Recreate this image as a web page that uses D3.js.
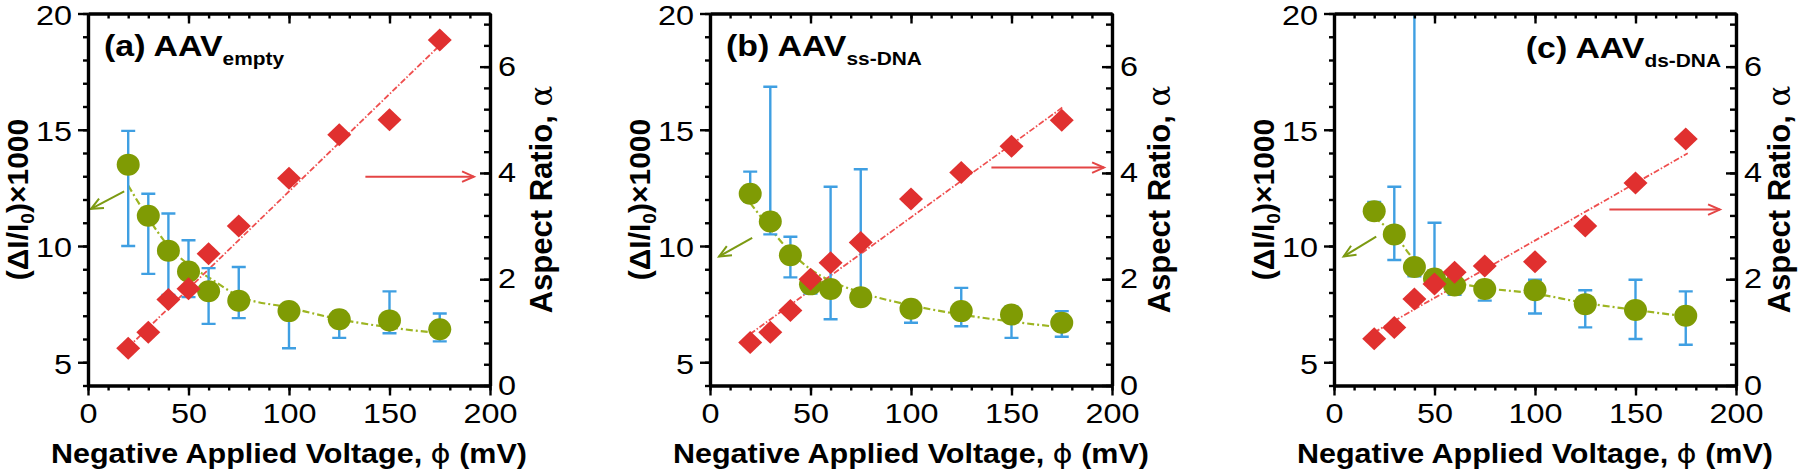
<!DOCTYPE html>
<html><head><meta charset="utf-8">
<script src="https://cdn.jsdelivr.net/npm/d3@7"></script>
<style>
body{margin:0;background:#fff;}
svg text{font-family:"Liberation Sans",Arial,Helvetica,sans-serif;fill:#000;}
</style></head><body>
<svg id="chart" width="1800" height="473"></svg>
<script>
// ---------- data ----------
const voltages = [20, 30, 40, 50, 60, 75, 100, 125, 150, 175];
const xTickValues = [0, 50, 100, 150, 200];
const leftTickValues = [5, 10, 15, 20];
const rightTickValues = [0, 2, 4, 6];

// Panel (a) AAV empty
const ampA    = [13.5, 11.3, 9.8, 8.9, 8.05, 7.65, 7.2, 6.85, 6.8, 6.42];
const ampHiA  = [14.95, 12.25, 11.4, 10.25, 9.05, 9.1, 7.5, 7.2, 8.05, 7.1];
const ampLoA  = [10.0, 8.8, 7.9, 7.8, 6.65, 6.9, 5.6, 6.05, 6.25, 5.9];
const ratioA  = [0.7, 1.0, 1.62, 1.82, 2.48, 3.0, 3.9, 4.72, 5.0, 6.5];
const fitAmpA = [12.6, 11.2, 10.0, 9.2, 8.65, 7.85, 7.35, 6.85, 6.5, 6.25];
const fitRatioA = [[20, 0.72], [175, 6.4]];
const arrowGreenA = [[18, 12.35], [1.5, 11.6]];
const arrowRedA = [[138, 3.93], [192, 3.93]];

// Panel (b) AAV ss-DNA
const ampB    = [12.25, 11.05, 9.6, 8.35, 8.15, 7.8, 7.3, 7.2, 7.05, 6.7];
const ampHiB  = [13.2, 16.85, 10.4, 8.7, 12.55, 13.3, 7.6, 8.2, 7.4, 7.2];
const ampLoB  = [11.9, 10.5, 8.65, 7.95, 6.85, 7.5, 6.7, 6.55, 6.05, 6.1];
const ratioB  = [0.81, 1.0, 1.41, 2.0, 2.31, 2.69, 3.51, 4.01, 4.5, 4.99];
const fitAmpB = [11.85, 10.75, 9.75, 9.0, 8.5, 8.0, 7.45, 7.05, 6.75, 6.5];
const fitRatioB = [[20, 0.97], [176, 5.25]];
const arrowGreenB = [[21, 10.35], [4.5, 9.55]];
const arrowRedB = [[140, 4.1], [196, 4.1]];

// Panel (c) AAV ds-DNA
const ampC    = [11.5, 10.5, 9.1, 8.6, 8.3, 8.15, 8.1, 7.5, 7.25, 7.0];
const ampHiC  = [11.9, 12.55, 21.5, 11.0, 8.7, 8.5, 8.55, 8.1, 8.55, 8.05];
const ampLoC  = [11.15, 9.4, 8.7, 8.2, 7.9, 7.65, 7.1, 6.5, 6.0, 5.75];
const ratioC  = [0.88, 1.09, 1.63, 1.91, 2.13, 2.25, 2.33, 3.0, 3.81, 4.64];
const fitAmpC = [11.22, 10.5, 9.4, 8.8, 8.45, 8.2, 7.95, 7.55, 7.25, 6.97];
const fitRatioC = [[20, 1.0], [176, 4.37]];
const arrowGreenC = [[21, 10.4], [4.8, 9.55]];
const arrowRedC = [[137, 3.31], [192, 3.31]];

const panelLabels = ["(a) AAV", "(b) AAV", "(c) AAV"];
const panelSubs = ["empty", "ss-DNA", "ds-DNA"];

// ---------- layout / style ----------
const panels = [
  {left: 88,   amp: ampA, hi: ampHiA, lo: ampLoA, ratio: ratioA, fitAmp: fitAmpA, fitRatio: fitRatioA, ag: arrowGreenA, ar: arrowRedA, title: panelLabels[0], sub: panelSubs[0], titleEnd: false, titleY: 56, rOff: 62},
  {left: 710,  amp: ampB, hi: ampHiB, lo: ampLoB, ratio: ratioB, fitAmp: fitAmpB, fitRatio: fitRatioB, ag: arrowGreenB, ar: arrowRedB, title: panelLabels[1], sub: panelSubs[1], titleEnd: false, titleY: 56, rOff: 58},
  {left: 1334, amp: ampC, hi: ampHiC, lo: ampLoC, ratio: ratioC, fitAmp: fitAmpC, fitRatio: fitRatioC, ag: arrowGreenC, ar: arrowRedC, title: panelLabels[2], sub: panelSubs[2], titleEnd: true, titleY: 58, rOff: 54}
];
const W = 402, TOP = 13.5, BOT = 385.5;
const SXT = 1.2, SXL = 1.13, SXH = 1.13;
const GREEN = "#7f9b04", GREENLINE = "#9db521", BLUE = "#3f9fe2", RED = "#e0302f", REDLINE = "#ef4f4f";

const svg = d3.select("#chart");

function arrow(g, x1, y1, x2, y2, color, w) {
  g.append("line").attr("x1", x1).attr("y1", y1).attr("x2", x2).attr("y2", y2)
    .attr("stroke", color).attr("stroke-width", w);
  const a = Math.atan2(y2 - y1, x2 - x1), L = 13, s = 0.42;
  const p1 = [x2 - L * Math.cos(a - s), y2 - L * Math.sin(a - s)];
  const p2 = [x2 - L * Math.cos(a + s), y2 - L * Math.sin(a + s)];
  g.append("path").attr("d", `M${p1[0]},${p1[1]}L${x2},${y2}L${p2[0]},${p2[1]}`)
    .attr("fill", "none").attr("stroke", color).attr("stroke-width", w);
}

panels.forEach((p, i) => {
  const g = svg.append("g");
  const x = d3.scaleLinear().domain([0, 200]).range([p.left, p.left + W]);
  const yL = d3.scaleLinear().domain([4, 20]).range([BOT, TOP]);
  const yR = d3.scaleLinear().domain([0, 7]).range([BOT, TOP]);

  const clipId = "clip" + i;
  svg.append("clipPath").attr("id", clipId).append("rect")
    .attr("x", p.left).attr("y", TOP).attr("width", W).attr("height", BOT - TOP);
  const plot = g.append("g").attr("clip-path", `url(#${clipId})`);

  // fitted curves
  plot.append("path")
    .datum(voltages.map((v, k) => [v, p.fitAmp[k]]))
    .attr("d", d3.line().x(d => x(d[0])).y(d => yL(d[1])).curve(d3.curveMonotoneX))
    .attr("fill", "none").attr("stroke", GREENLINE).attr("stroke-width", 2.2)
    .attr("stroke-dasharray", "7,3,2,3");
  plot.append("path")
    .datum(p.fitRatio)
    .attr("d", d3.line().x(d => x(d[0])).y(d => yR(d[1])))
    .attr("fill", "none").attr("stroke", REDLINE).attr("stroke-width", 1.8)
    .attr("stroke-dasharray", "6,2,1.5,2");

  // error bars
  const eb = plot.append("g").attr("stroke", BLUE).attr("stroke-width", 2.4);
  voltages.forEach((v, k) => {
    eb.append("line").attr("x1", x(v)).attr("x2", x(v)).attr("y1", yL(p.lo[k])).attr("y2", yL(p.hi[k]));
    [p.lo[k], p.hi[k]].forEach(e => {
      eb.append("line").attr("x1", x(v) - 7).attr("x2", x(v) + 7).attr("y1", yL(e)).attr("y2", yL(e));
    });
  });

  // amplitude markers
  plot.append("g").selectAll("ellipse").data(voltages).join("ellipse")
    .attr("cx", d => x(d)).attr("cy", (d, k) => yL(p.amp[k]))
    .attr("rx", 11.5).attr("ry", 11).attr("fill", GREEN);

  // aspect-ratio markers
  plot.append("g").selectAll("path").data(voltages).join("path")
    .attr("d", (d, k) => {
      const cx = x(d), cy = yR(p.ratio[k]), a = 12, b = 11.5;
      return `M${cx},${cy - b}L${cx + a},${cy}L${cx},${cy + b}L${cx - a},${cy}Z`;
    })
    .attr("fill", RED);

  // arrows
  arrow(g, x(p.ag[0][0]), yL(p.ag[0][1]), x(p.ag[1][0]), yL(p.ag[1][1]), "#7c9a12", 2);
  arrow(g, x(p.ar[0][0]), yR(p.ar[0][1]), x(p.ar[1][0]), yR(p.ar[1][1]), "#e44545", 2);

  // axes
  const styleAxis = (sel, side) => {
    sel.selectAll("path.domain").attr("stroke", "#000").attr("stroke-width", 3.2);
    sel.selectAll(".tick line").attr("stroke", "#000").attr("stroke-width", 2.4);
    const t = sel.selectAll(".tick text").attr("font-size", 27).attr("fill", "#000")
      .attr("transform", `scale(${SXT},1)`);
    if (side === "left") t.attr("x", -16 / SXT).attr("dy", "0.4em");
    if (side === "right") t.attr("x", 8 / SXT);
  };
  const minorX = d3.range(0, 201, 10), minorL = d3.range(4, 21, 1), minorR = d3.range(0, 7.01, 0.4);
  g.append("g").attr("transform", `translate(0,${BOT})`)
    .call(d3.axisBottom(x).tickValues(minorX).tickSize(5).tickSizeOuter(0).tickFormat("")).call(styleAxis);
  g.append("g").attr("transform", `translate(0,${BOT})`)
    .call(d3.axisBottom(x).tickValues(xTickValues).tickSize(10).tickSizeOuter(0).tickPadding(8).tickFormat(d3.format("d"))).call(styleAxis);
  g.append("g").attr("transform", `translate(0,${TOP})`)
    .call(d3.axisTop(x).tickValues(minorX).tickSize(-5).tickSizeOuter(0).tickFormat("")).call(styleAxis);
  g.append("g").attr("transform", `translate(0,${TOP})`)
    .call(d3.axisTop(x).tickValues(xTickValues).tickSize(-10).tickSizeOuter(0).tickFormat("")).call(styleAxis);
  g.append("g").attr("transform", `translate(${p.left},0)`)
    .call(d3.axisLeft(yL).tickValues(minorL).tickSize(5).tickSizeOuter(0).tickFormat("")).call(styleAxis);
  g.append("g").attr("transform", `translate(${p.left},0)`)
    .call(d3.axisLeft(yL).tickValues(leftTickValues).tickSize(10).tickSizeOuter(0).tickFormat(d3.format("d")))
    .call(s => styleAxis(s, "left"));
  g.append("g").attr("transform", `translate(${p.left + W},0)`)
    .call(d3.axisRight(yR).tickValues(minorR).tickSize(-6).tickSizeOuter(0).tickFormat("")).call(styleAxis);
  g.append("g").attr("transform", `translate(${p.left + W},0)`)
    .call(d3.axisRight(yR).tickValues(rightTickValues).tickSize(-10).tickSizeOuter(0).tickFormat(d3.format("d")))
    .call(s => styleAxis(s, "right"));

  // axis titles
  const xl = g.append("text").attr("text-anchor", "middle").attr("font-weight", "bold").attr("font-size", 27)
    .attr("transform", `translate(${p.left + W / 2},463) scale(${SXL},1)`);
  xl.append("tspan").text("Negative Applied Voltage, ");
  xl.append("tspan").attr("font-weight", "normal").attr("font-family", "DejaVu Sans").text("ϕ");
  xl.append("tspan").text(" (mV)");

  const yl = g.append("text").attr("text-anchor", "middle").attr("font-weight", "bold").attr("font-size", 30)
    .attr("transform", `translate(${p.left - 60},${(TOP + BOT) / 2}) rotate(-90)`);
  yl.append("tspan").text("(ΔI/I");
  yl.append("tspan").attr("font-size", 19).attr("dy", 6).text("0");
  yl.append("tspan").attr("dy", -6).text(")×1000");

  const yr = g.append("text").attr("text-anchor", "middle").attr("font-weight", "bold").attr("font-size", 31)
    .attr("transform", `translate(${p.left + W + p.rOff},${(TOP + BOT) / 2}) rotate(-90)`);
  yr.append("tspan").text("Aspect Ratio, ");
  yr.append("tspan").attr("font-weight", "normal").attr("font-family", "DejaVu Serif").text("α");

  // panel title
  const tx = p.titleEnd ? p.left + W - 15 : p.left + 16;
  const t = g.append("text").attr("font-weight", "bold").attr("font-size", 30)
    .attr("text-anchor", p.titleEnd ? "end" : "start")
    .attr("transform", `translate(${tx},${p.titleY}) scale(${SXH},1)`);
  t.append("tspan").text(p.title);
  t.append("tspan").attr("font-size", 18.5).attr("dy", 9).text(p.sub);
});
</script>
</body></html>
